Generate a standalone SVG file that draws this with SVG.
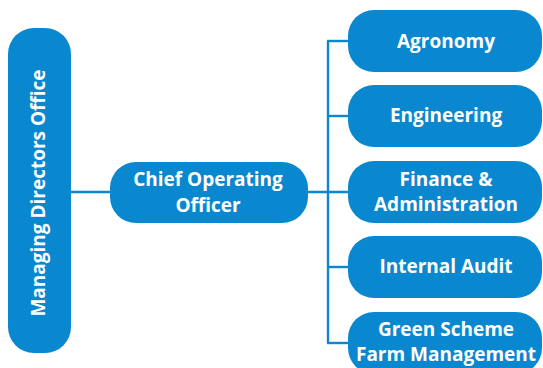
<svg xmlns="http://www.w3.org/2000/svg" width="543" height="368" viewBox="0 0 543 368">
<style>
.box{fill:#0a88cf}
.t{fill:#fff;font-family:"Open Sans","Liberation Sans",sans-serif;font-weight:bold;font-size:19px;text-anchor:middle}
.c{stroke:#0a88cf;stroke-width:2.4;fill:none}
</style>
<rect width="543" height="368" fill="#fff"/>
<g id="connectors">
<line class="c" x1="71" y1="192" x2="110" y2="192"/>
<line class="c" x1="308" y1="192" x2="348" y2="192"/>
<line class="c" x1="328" y1="41" x2="328" y2="343"/>
<line class="c" x1="327" y1="41" x2="348" y2="41"/>
<line class="c" x1="328" y1="116" x2="348" y2="116"/>
<line class="c" x1="328" y1="267" x2="348" y2="267"/>
<line class="c" x1="327" y1="343" x2="348" y2="343"/>
</g>
<g id="mdo">
<rect class="box" x="8" y="28" width="63" height="325" rx="26"/>
<text class="t" transform="translate(45,193) rotate(-90)">Managing Directors Office</text>
</g>
<g id="coo">
<rect class="box" x="110" y="162" width="198" height="61" rx="26"/>
<text class="t" x="208" y="186">Chief Operating</text>
<text class="t" x="208" y="212">Officer</text>
</g>
<g id="agronomy">
<rect class="box" x="348" y="10" width="194" height="62" rx="26"/>
<text class="t" x="446" y="48">Agronomy</text>
</g>
<g id="engineering">
<rect class="box" x="348" y="85" width="194" height="62" rx="26"/>
<text class="t" x="446" y="122">Engineering</text>
</g>
<g id="finance">
<rect class="box" x="348" y="161" width="194" height="62" rx="26"/>
<text class="t" x="446" y="186">Finance &amp;</text>
<text class="t" x="446" y="211">Administration</text>
</g>
<g id="audit">
<rect class="box" x="348" y="236" width="194" height="62" rx="26"/>
<text class="t" x="446" y="273">Internal Audit</text>
</g>
<g id="green">
<rect class="box" x="348" y="312" width="194" height="62" rx="26"/>
<text class="t" x="446" y="336">Green Scheme</text>
<text class="t" x="446" y="361">Farm Management</text>
</g>
</svg>
